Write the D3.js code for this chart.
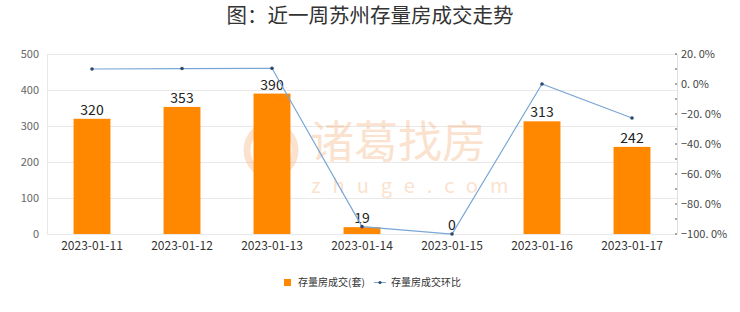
<!DOCTYPE html>
<html><head><meta charset="utf-8">
<script src="https://cdn.jsdelivr.net/npm/d3@7"></script>
<style>body{margin:0;background:#fff;}svg{display:block;font-family:"Noto Sans CJK SC","Noto Sans",sans-serif;}</style>
</head><body>
<svg id="c" width="740" height="312"></svg>
<script>
const categories = ["2023-01-11","2023-01-12","2023-01-13","2023-01-14","2023-01-15","2023-01-16","2023-01-17"];
const volume = [320,353,390,19,0,313,242];
const ratio = [10.0,10.3,10.5,-95.1,-100,0,-22.7];
const leftTicks = [0,100,200,300,400,500];
const rightTicks = [20,0,-20,-40,-60,-80,-100];
const title = "图：近一周苏州存量房成交走势";
const legendNames = ["存量房成交(套)","存量房成交环比"];

const svg = d3.select("#c");
const L=47, R=677, T=54, B=234;
const x = d3.scaleBand().domain(categories).range([L,R]);
const y = d3.scaleLinear().domain([0,500]).range([B,T]);
const y2 = d3.scaleLinear().domain([-100,20]).range([B,T]);

svg.append("text").attr("x",370).attr("y",23).attr("text-anchor","middle")
  .attr("font-size",20.5).attr("fill","#333").text(title);

// grid
svg.append("g").selectAll("line").data(leftTicks).join("line")
  .attr("x1",L).attr("x2",R).attr("y1",d=>y(d)).attr("y2",d=>y(d))
  .attr("stroke","#e8e8e8").attr("stroke-width",1).attr("shape-rendering","crispEdges");
svg.append("line").attr("x1",L).attr("x2",L).attr("y1",T).attr("y2",B).attr("stroke","#e8e8e8").attr("shape-rendering","crispEdges");

// watermark
const wm = svg.append("g").attr("opacity",0.3).attr("fill","#f0a060");
wm.append("ellipse").attr("cx",271).attr("cy",150).attr("rx",24).attr("ry",25).attr("fill","none").attr("stroke","#f0a060").attr("stroke-width",7);
wm.append("text").attr("x",310).attr("y",158).attr("font-size",44).text("诸葛找房");
wm.append("text").attr("x",311).attr("y",193).attr("font-size",20).attr("letter-spacing",12).text("zhuge.com");

// left axis
const ga = svg.append("g").attr("transform",`translate(${L},0)`)
  .call(d3.axisLeft(y).tickValues(leftTicks).tickSize(0).tickPadding(8));
ga.select(".domain").remove();
ga.selectAll("text").attr("font-size",11).attr("fill","#666").attr("font-family","'Noto Sans CJK SC',sans-serif");

// right axis
const gr = svg.append("g").attr("transform",`translate(${R},0)`)
  .call(d3.axisRight(y2).tickValues(rightTicks).tickSize(0).tickPadding(6).tickFormat(d=>d3.format(".1f")(d).replace(".",". ")+"%"));
gr.select(".domain").attr("stroke","#e0e0e0");
gr.selectAll("text").attr("font-size",11).attr("fill","#444").attr("font-family","'Noto Sans CJK SC',sans-serif").attr("dx",-2);
const minor = d3.range(-100,21,10);
gr.append("g").selectAll("line").data(minor).join("line")
  .attr("x1",-2).attr("x2",0).attr("y1",d=>y2(d)).attr("y2",d=>y2(d)).attr("stroke","#555");

// x axis labels
svg.append("g").selectAll("text").data(categories).join("text")
  .attr("x",d=>x(d)+x.bandwidth()/2).attr("y",250).attr("text-anchor","middle")
  .attr("font-size",12).attr("fill","#333").text(d=>d);

// bars
const bw = x.bandwidth()*0.41;
svg.append("g").selectAll("rect").data(volume).join("rect")
  .attr("x",(d,i)=>x(categories[i])+x.bandwidth()/2-bw/2).attr("width",bw)
  .attr("y",d=>y(d)).attr("height",d=>B-y(d)).attr("fill","#ff8800");
svg.append("g").selectAll("text").data(volume).join("text")
  .attr("x",(d,i)=>x(categories[i])+x.bandwidth()/2).attr("y",d=>y(d)-4)
  .attr("text-anchor","middle").attr("font-size",14).attr("fill","#222").text(d=>d);

// line
const cx = (d,i)=>x(categories[i])+x.bandwidth()/2;
svg.append("path").datum(ratio).attr("fill","none").attr("stroke","#7aa6d6").attr("stroke-width",1.2)
  .attr("d",d3.line().x(cx).y(d=>y2(d)));
svg.append("g").selectAll("circle").data(ratio).join("circle")
  .attr("cx",cx).attr("cy",d=>y2(d)).attr("r",1.8).attr("fill","#2d4a6e");

// legend
const lg = svg.append("g");
lg.append("rect").attr("x",284).attr("y",279).attr("width",7).attr("height",7).attr("fill","#ff8800");
lg.append("text").attr("x",298).attr("y",286).attr("font-size",10).attr("fill","#333").text(legendNames[0]);
lg.append("line").attr("x1",374).attr("x2",386).attr("y1",282.5).attr("y2",282.5).attr("stroke","#7aa6d6");
lg.append("circle").attr("cx",380).attr("cy",282.5).attr("r",1.6).attr("fill","#2d4a6e");
lg.append("text").attr("x",391).attr("y",286).attr("font-size",10).attr("fill","#333").text(legendNames[1]);
</script>
</body></html>
